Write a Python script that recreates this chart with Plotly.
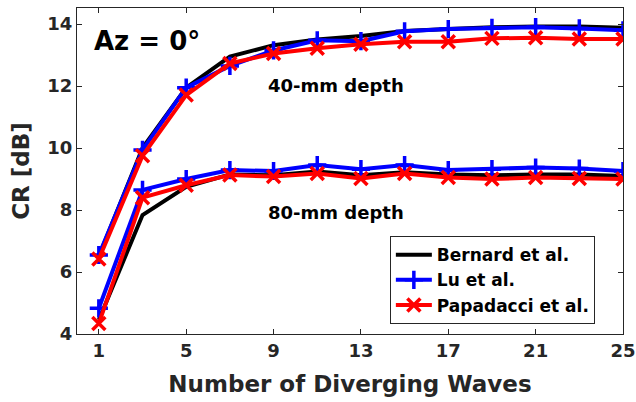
import plotly.graph_objects as go

waves = [1, 3, 5, 7, 9, 11, 13, 15, 17, 19, 21, 23, 25]

bernard_40 = [6.5, 10.0, 11.95, 12.95, 13.32, 13.5, 13.62, 13.78, 13.84, 13.9, 13.92, 13.92, 13.88]
lu_40 = [6.55, 9.94, 11.95, 12.65, 13.15, 13.48, 13.45, 13.77, 13.84, 13.88, 13.9, 13.86, 13.8]
papadacci_40 = [6.42, 9.75, 11.71, 12.73, 13.05, 13.22, 13.35, 13.43, 13.43, 13.54, 13.56, 13.52, 13.52]

bernard_80 = [4.45, 7.84, 8.75, 9.15, 9.12, 9.24, 9.12, 9.22, 9.15, 9.12, 9.15, 9.15, 9.1]
lu_80 = [4.83, 8.65, 9.0, 9.29, 9.26, 9.45, 9.32, 9.45, 9.29, 9.32, 9.37, 9.34, 9.26]
papadacci_80 = [4.34, 8.4, 8.8, 9.13, 9.08, 9.18, 9.02, 9.18, 9.05, 9.0, 9.05, 9.02, 9.0]

x_ticks = [1, 5, 9, 13, 17, 21, 25]
y_ticks = [4, 6, 8, 10, 12, 14]

FONT = "DejaVu Sans"
AX = "#262626"

fig = go.Figure()

def add(y, color, symbol, name, show):
    mk = dict(size=13, symbol=symbol, color=color, line=dict(color=color, width=3.5)) if symbol else None
    fig.add_trace(go.Scatter(
        x=waves, y=y, name=name, showlegend=show,
        mode="lines+markers" if symbol else "lines",
        line=dict(color=color, width=4),
        marker=mk,
    ))

add(bernard_40, "black", None, "Bernard et al.", True)
add(lu_40, "#0000ff", "cross-thin", "Lu et al.", True)
add(papadacci_40, "#ff0000", "x-thin", "Papadacci et al.", True)
add(bernard_80, "black", None, "Bernard et al.", False)
add(lu_80, "#0000ff", "cross-thin", "Lu et al.", False)
add(papadacci_80, "#ff0000", "x-thin", "Papadacci et al.", False)

fig.update_layout(
    width=636, height=402,
    margin=dict(l=77, r=13, t=8, b=68, autoexpand=False),
    paper_bgcolor="white", plot_bgcolor="white",
    font=dict(family=FONT, color=AX),
    legend=dict(
        x=0.573, y=0.30, xanchor="left", yanchor="top",
        bgcolor="white", bordercolor=AX, borderwidth=1,
        font=dict(family=FONT, size=17, color="black", weight="bold"),
        tracegroupgap=0, itemwidth=36,
    ),
    xaxis=dict(
        range=[0, 25], tickvals=x_ticks, ticks="inside", ticklen=5,
        tickcolor=AX, showline=True, linecolor=AX, linewidth=1, mirror="ticks",
        showgrid=False, zeroline=False, automargin=False,
        tickfont=dict(size=18, family=FONT, color=AX, weight="bold"),
        title=dict(text="Number of Diverging Waves", standoff=16,
                   font=dict(size=23, family=FONT, color=AX, weight="bold")),
    ),
    yaxis=dict(
        range=[4, 14.52], tickvals=y_ticks, ticks="inside", ticklen=5,
        tickcolor=AX, showline=True, linecolor=AX, linewidth=1, mirror="ticks",
        showgrid=False, zeroline=False, automargin=False,
        tickfont=dict(size=18, family=FONT, color=AX, weight="bold"),
        title=dict(text="CR [dB]", standoff=11,
                   font=dict(size=23, family=FONT, color=AX, weight="bold")),
    ),
    annotations=[
        dict(text="Az = 0°", x=0.68, y=13.46, xref="x", yref="y", xanchor="left",
             yanchor="middle", showarrow=False,
             font=dict(size=26, family=FONT, color="black", weight="bold")),
        dict(text="40-mm depth", x=11.86, y=12.03, xref="x", yref="y",
             showarrow=False,
             font=dict(size=18, family=FONT, color="black", weight="bold")),
        dict(text="80-mm depth", x=11.86, y=7.93, xref="x", yref="y",
             showarrow=False,
             font=dict(size=18, family=FONT, color="black", weight="bold")),
    ],
)

fig.write_html("out.html", config={"displayModeBar": False},
               post_script="document.body.style.margin='0';")
